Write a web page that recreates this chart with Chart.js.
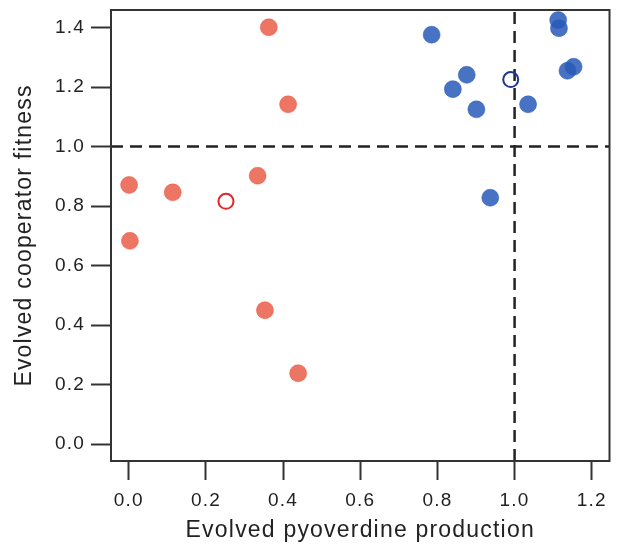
<!DOCTYPE html>
<html>
<head>
<meta charset="utf-8">
<script src="https://cdn.jsdelivr.net/npm/chart.js@4"></script>
<style>
  html, body { margin: 0; padding: 0; background: #fff; }
  #wrap { width: 619px; height: 545px; }
</style>
</head>
<body>
<div id="wrap"><canvas id="chart" width="619" height="545"></canvas></div>
<script>
// pyoverdine (x) vs cooperator fitness (y)
const redX = [0.363, 0.413, 0.001, 0.114, 0.334, 0.003, 0.353, 0.439];
const redY = [1.401, 1.142, 0.871, 0.846, 0.902, 0.683, 0.450, 0.238];
const redOpenX = [0.252];
const redOpenY = [0.816];

const blueX = [0.785, 1.113, 1.115, 1.153, 1.137, 0.876, 0.840, 0.901, 1.035, 0.937];
const blueY = [1.376, 1.425, 1.398, 1.268, 1.255, 1.241, 1.193, 1.125, 1.142, 0.828];
const blueOpenX = [0.990];
const blueOpenY = [1.225];

const xTicks = [0.0, 0.2, 0.4, 0.6, 0.8, 1.0, 1.2];
const yTicks = [0.0, 0.2, 0.4, 0.6, 0.8, 1.0, 1.2, 1.4];
const xRange = [-0.046, 1.246];
const yRange = [-0.057, 1.459];
const refX = 1.0;
const refY = 1.0;

const FONT = "'Liberation Sans', Arial, sans-serif";
const INK = "#222";
const SPACING = "1.2px";

function pts(xs, ys) {
  return xs.map((x, i) => ({ x: x, y: ys[i] }));
}

// the reference text is set a little wide, so space the letters out
const spacingPlugin = {
  id: "spacing",
  beforeUpdate(chart) { chart.ctx.letterSpacing = SPACING; },
  beforeDraw(chart) { chart.ctx.letterSpacing = SPACING; },
};

// frame round the plot area (top and right sides too)
const framePlugin = {
  id: "frame",
  afterDraw(chart) {
    const a = chart.chartArea;
    const ctx = chart.ctx;
    ctx.save();
    ctx.strokeStyle = "#333";
    ctx.lineWidth = 2;
    ctx.strokeRect(a.left, a.top, a.right - a.left, a.bottom - a.top);
    ctx.restore();
  },
};

const dashStyle = {
  type: "line",
  borderColor: INK,
  borderWidth: 2.5,
  borderDash: [12, 7],
  pointRadius: 0,
  fill: false,
  order: 5,
};

new Chart(document.getElementById("chart"), {
  type: "scatter",
  data: {
    datasets: [
      Object.assign({}, dashStyle, { data: [{ x: refX, y: yRange[0] }, { x: refX, y: yRange[1] }] }),
      Object.assign({}, dashStyle, { data: [{ x: xRange[0], y: refY }, { x: xRange[1], y: refY }] }),
      {
        data: pts(redX, redY),
        backgroundColor: "rgba(233,87,66,0.82)",
        borderColor: "rgba(233,87,66,0.5)",
        borderWidth: 1,
        pointRadius: 8.5,
        order: 1,
      },
      {
        data: pts(redOpenX, redOpenY),
        backgroundColor: "rgba(255,255,255,0)",
        borderColor: "#e3262a",
        borderWidth: 2,
        pointRadius: 7.5,
        order: 1,
      },
      {
        data: pts(blueX, blueY),
        backgroundColor: "rgba(40,90,185,0.85)",
        borderColor: "rgba(40,90,185,0.5)",
        borderWidth: 1,
        pointRadius: 8.5,
        order: 1,
      },
      {
        data: pts(blueOpenX, blueOpenY),
        backgroundColor: "rgba(255,255,255,0)",
        borderColor: "#1f3590",
        borderWidth: 2,
        pointRadius: 7.5,
        order: 1,
      },
    ],
  },
  options: {
    responsive: false,
    animation: false,
    layout: { padding: { top: 10, right: 6, left: 0, bottom: 0 } },
    plugins: {
      legend: { display: false },
      tooltip: { enabled: false },
    },
    scales: {
      x: {
        type: "linear",
        min: xRange[0],
        max: xRange[1],
        afterBuildTicks: (s) => { s.ticks = xTicks.map((v) => ({ value: v })); },
        afterFit: (s) => {
          s.height = 84;
          s.paddingLeft = 0;
          s.paddingRight = 0;
        },
        grid: { drawOnChartArea: false, drawTicks: true, tickLength: 19, tickWidth: 2, color: "#333" },
        border: { display: false },
        ticks: {
          padding: 9,
          color: INK,
          font: { family: FONT, size: 19 },
          callback: (v) => Number(v).toFixed(1),
        },
        title: {
          display: true,
          text: "Evolved pyoverdine production",
          color: INK,
          font: { family: FONT, size: 23 },
          padding: { top: 0, bottom: 1 },
        },
      },
      y: {
        type: "linear",
        min: yRange[0],
        max: yRange[1],
        afterBuildTicks: (s) => { s.ticks = yTicks.map((v) => ({ value: v })); },
        afterFit: (s) => {
          s.width = 111;
          s.paddingTop = 0;
          s.paddingBottom = 0;
        },
        grid: { drawOnChartArea: false, drawTicks: true, tickLength: 20, tickWidth: 2, color: "#333" },
        border: { display: false },
        ticks: {
          padding: 6,
          color: INK,
          font: { family: FONT, size: 19 },
          callback: (v) => Number(v).toFixed(1),
        },
        title: {
          display: true,
          text: "Evolved cooperator fitness",
          color: INK,
          font: { family: FONT, size: 23 },
          padding: { top: 11, bottom: 0 },
        },
      },
    },
  },
  plugins: [spacingPlugin, framePlugin],
});
</script>
</body>
</html>
